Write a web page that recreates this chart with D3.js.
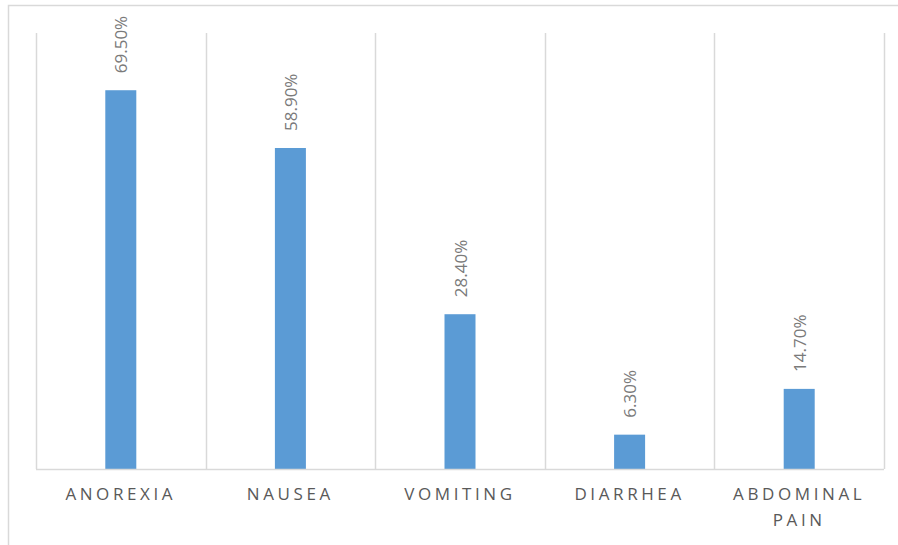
<!DOCTYPE html>
<html>
<head>
<meta charset="utf-8">
<script src="https://cdn.jsdelivr.net/npm/d3@7"></script>
<style>
html,body{margin:0;padding:0;background:#fff;}
svg{display:block;}
</style>
</head>
<body>
<svg id="chart" width="898" height="545"></svg>
<script>
const categories = [["ANOREXIA"], ["NAUSEA"], ["VOMITING"], ["DIARRHEA"], ["ABDOMINAL", "PAIN"]];
const values = [69.5, 58.9, 28.4, 6.3, 14.7];
const valueLabels = ["69.50%", "58.90%", "28.40%", "6.30%", "14.70%"];
const yDomain = [0, 80];

const svg = d3.select("#chart");
const W = 898, H = 545;
const plot = {left: 36, right: 884, top: 33, bottom: 469};

// chart-area border (only top and left visible in the frame)
svg.append("rect")
  .attr("x", 8.5).attr("y", 5.5)
  .attr("width", W + 10).attr("height", H + 10)
  .attr("fill", "#fff")
  .attr("stroke", "#d9d9d9").attr("stroke-width", 1.5);

const keys = categories.map((c, i) => i);
const x = d3.scaleBand().domain(keys).range([plot.left, plot.right]).paddingInner(0).paddingOuter(0);
const y = d3.scaleLinear().domain(yDomain).range([plot.bottom, plot.top]);

// vertical gridlines at category boundaries
const bounds = keys.map(k => x(k)).concat([plot.right]);
svg.append("g").selectAll("line").data(bounds).join("line")
  .attr("x1", d => Math.round(d) + 0.5).attr("x2", d => Math.round(d) + 0.5)
  .attr("y1", plot.top).attr("y2", plot.bottom)
  .attr("stroke", "#d9d9d9").attr("stroke-width", 1.5);

// bars
const barW = 31;
svg.append("g").selectAll("rect").data(values).join("rect")
  .attr("x", (d, i) => x(i) + x.bandwidth() / 2 - barW / 2)
  .attr("y", d => y(d))
  .attr("width", barW)
  .attr("height", d => y(0) - y(d))
  .attr("fill", "#5b9bd5");

// baseline
svg.append("line")
  .attr("x1", plot.left).attr("x2", plot.right)
  .attr("y1", plot.bottom + 0.5).attr("y2", plot.bottom + 0.5)
  .attr("stroke", "#d9d9d9").attr("stroke-width", 1.5);

// value labels, rotated
svg.append("g").selectAll("text").data(values).join("text")
  .attr("transform", (d, i) => `translate(${x(i) + x.bandwidth() / 2 + 6.5},${y(d) - 17}) rotate(-90)`)
  .attr("text-anchor", "start")
  .attr("font-family", "'Open Sans', 'Noto Sans', sans-serif")
  .attr("font-size", 17)
  .attr("fill", "#7a7a7a")
  .text((d, i) => valueLabels[i]);

// category labels
const cat = svg.append("g").selectAll("text").data(categories).join("text")
  .attr("text-anchor", "middle")
  .attr("font-family", "'Open Sans', 'Noto Sans', sans-serif")
  .attr("font-size", 17)
  .attr("letter-spacing", "3.6px")
  .attr("fill", "#595959");
cat.each(function(lines, i) {
  const t = d3.select(this);
  lines.forEach((ln, j) => {
    t.append("tspan")
      .attr("x", x(i) + x.bandwidth() / 2)
      .attr("y", 500 + j * 26)
      .text(ln);
  });
});
</script>
</body>
</html>
